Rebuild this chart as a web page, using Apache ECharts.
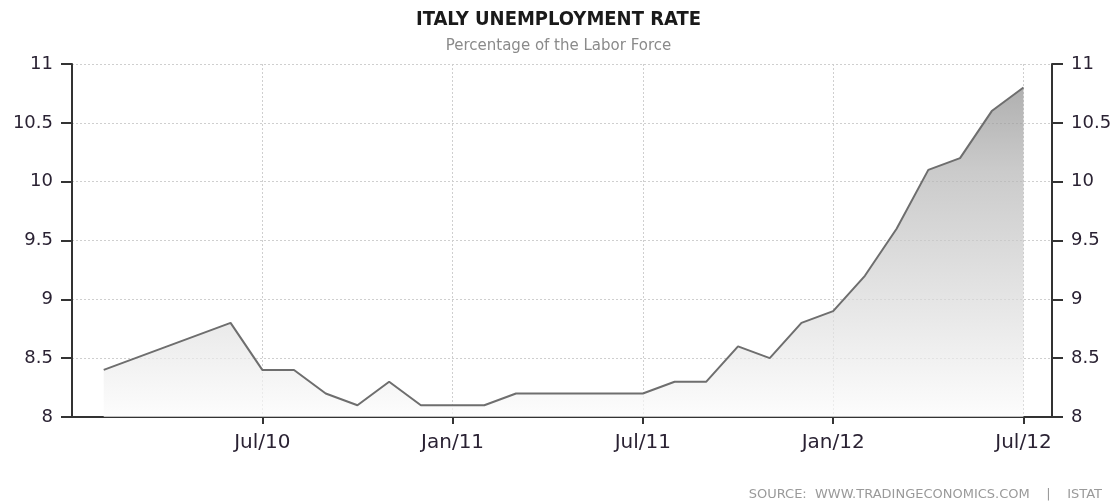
<!DOCTYPE html>
<html>
<head>
<meta charset="utf-8">
<script src="https://cdn.jsdelivr.net/npm/echarts@6/dist/echarts.min.js"></script>
<style>html,body{margin:0;padding:0;background:#fff}#c{width:1117px;height:501px}</style>
</head>
<body>
<div id="c"></div>
<script>
// Data (months as YYYY-MM, values in %)
const months = ['2010-02','2010-06','2010-07','2010-08','2010-09','2010-10','2010-11','2010-12',
  '2011-01','2011-02','2011-03','2011-04','2011-05','2011-06','2011-07','2011-08','2011-09','2011-10','2011-11','2011-12',
  '2012-01','2012-02','2012-03','2012-04','2012-05','2012-06','2012-07'];
const rates = [8.4,8.8,8.4,8.4,8.2,8.1,8.3,8.1,
  8.1,8.1,8.2,8.2,8.2,8.2,8.2,8.3,8.3,8.6,8.5,8.8,
  8.9,9.2,9.6,10.1,10.2,10.6,10.8];
const monthNames = ['Jan','Feb','Mar','Apr','May','Jun','Jul','Aug','Sep','Oct','Nov','Dec'];
const yTicks = [8, 8.5, 9, 9.5, 10, 10.5, 11];
const baseYear = 2010;

function monthIndex(s){ const [y,m]=s.split('-').map(Number); return (y-baseYear)*12 + (m-1); }
function monthLabel(v){
  if(v<=0 || Math.abs(v-Math.round(v))>1e-6 || Math.round(v)%6!==0) return '';
  const i=Math.round(v); const y=baseYear+Math.floor(i/12); const m=i%12;
  return monthNames[m]+'/'+String(y).slice(2);
}
const seriesData = months.map((m,i)=>[monthIndex(m), rates[i]]);

const chart = echarts.init(document.getElementById('c'));
const font = 'DejaVu Sans';
const yAxisCommon = {
  type:'value', min:yTicks[0], max:yTicks[yTicks.length-1], interval:0.5,
  axisLine:{show:true, lineStyle:{color:'#333', width:2}},
  axisTick:{show:true, inside:false, length:11, lineStyle:{color:'#333', width:2}},
  axisLabel:{color:'#2a2233', fontFamily:font, fontSize:18, margin:19, formatter:v=>String(v)},
  splitLine:{show:true, lineStyle:{color:'#cfcfcf', type:[2,2], width:1}}
};
chart.setOption({
  animation:false,
  backgroundColor:'#ffffff',
  title:[
    {text:'ITALY UNEMPLOYMENT RATE', left:'center', top:5,
     textStyle:{fontFamily:'DejaVu Sans Condensed', fontWeight:'bold', fontSize:20, color:'#1a1a1a'},
     subtext:'Percentage of the Labor Force', itemGap:9,
     subtextStyle:{fontFamily:font, fontSize:15, color:'#8a8a8a'}},
    {text:'SOURCE:  WWW.TRADINGECONOMICS.COM    |    ISTAT', right:10, top:483,
     textStyle:{fontFamily:font, fontSize:13, fontWeight:'normal', color:'#9a9a9a'}}
  ],
  grid:{left:72, right:65, top:64, bottom:84, containLabel:false},
  xAxis:{
    type:'value', min:0, max:30.9, interval:6,
    axisLine:{show:true, onZero:false, lineStyle:{color:'#333', width:2}},
    axisTick:{show:true, length:7, lineStyle:{color:'#333', width:2}},
    axisLabel:{color:'#2a2233', fontFamily:font, fontSize:20, margin:16, showMinLabel:false, showMaxLabel:false,
      formatter:v=>monthLabel(v)},
    splitLine:{show:true, lineStyle:{color:'#cfcfcf', type:[2,2], width:1}}
  },
  yAxis:[
    Object.assign({}, yAxisCommon, {position:'left'}),
    Object.assign({}, yAxisCommon, {position:'right', splitLine:{show:false}})
  ],
  series:[{
    type:'line', data:seriesData, yAxisIndex:0, symbol:'none',
    lineStyle:{color:'#6e6e6e', width:2},
    areaStyle:{origin:'start', color:new echarts.graphic.LinearGradient(0,0,0,1,[
      {offset:0, color:'#8e8e8e'},{offset:0.25, color:'#b4b4b4'},{offset:1, color:'#fcfcfc'}])}
  }]
});
</script>
</body>
</html>
